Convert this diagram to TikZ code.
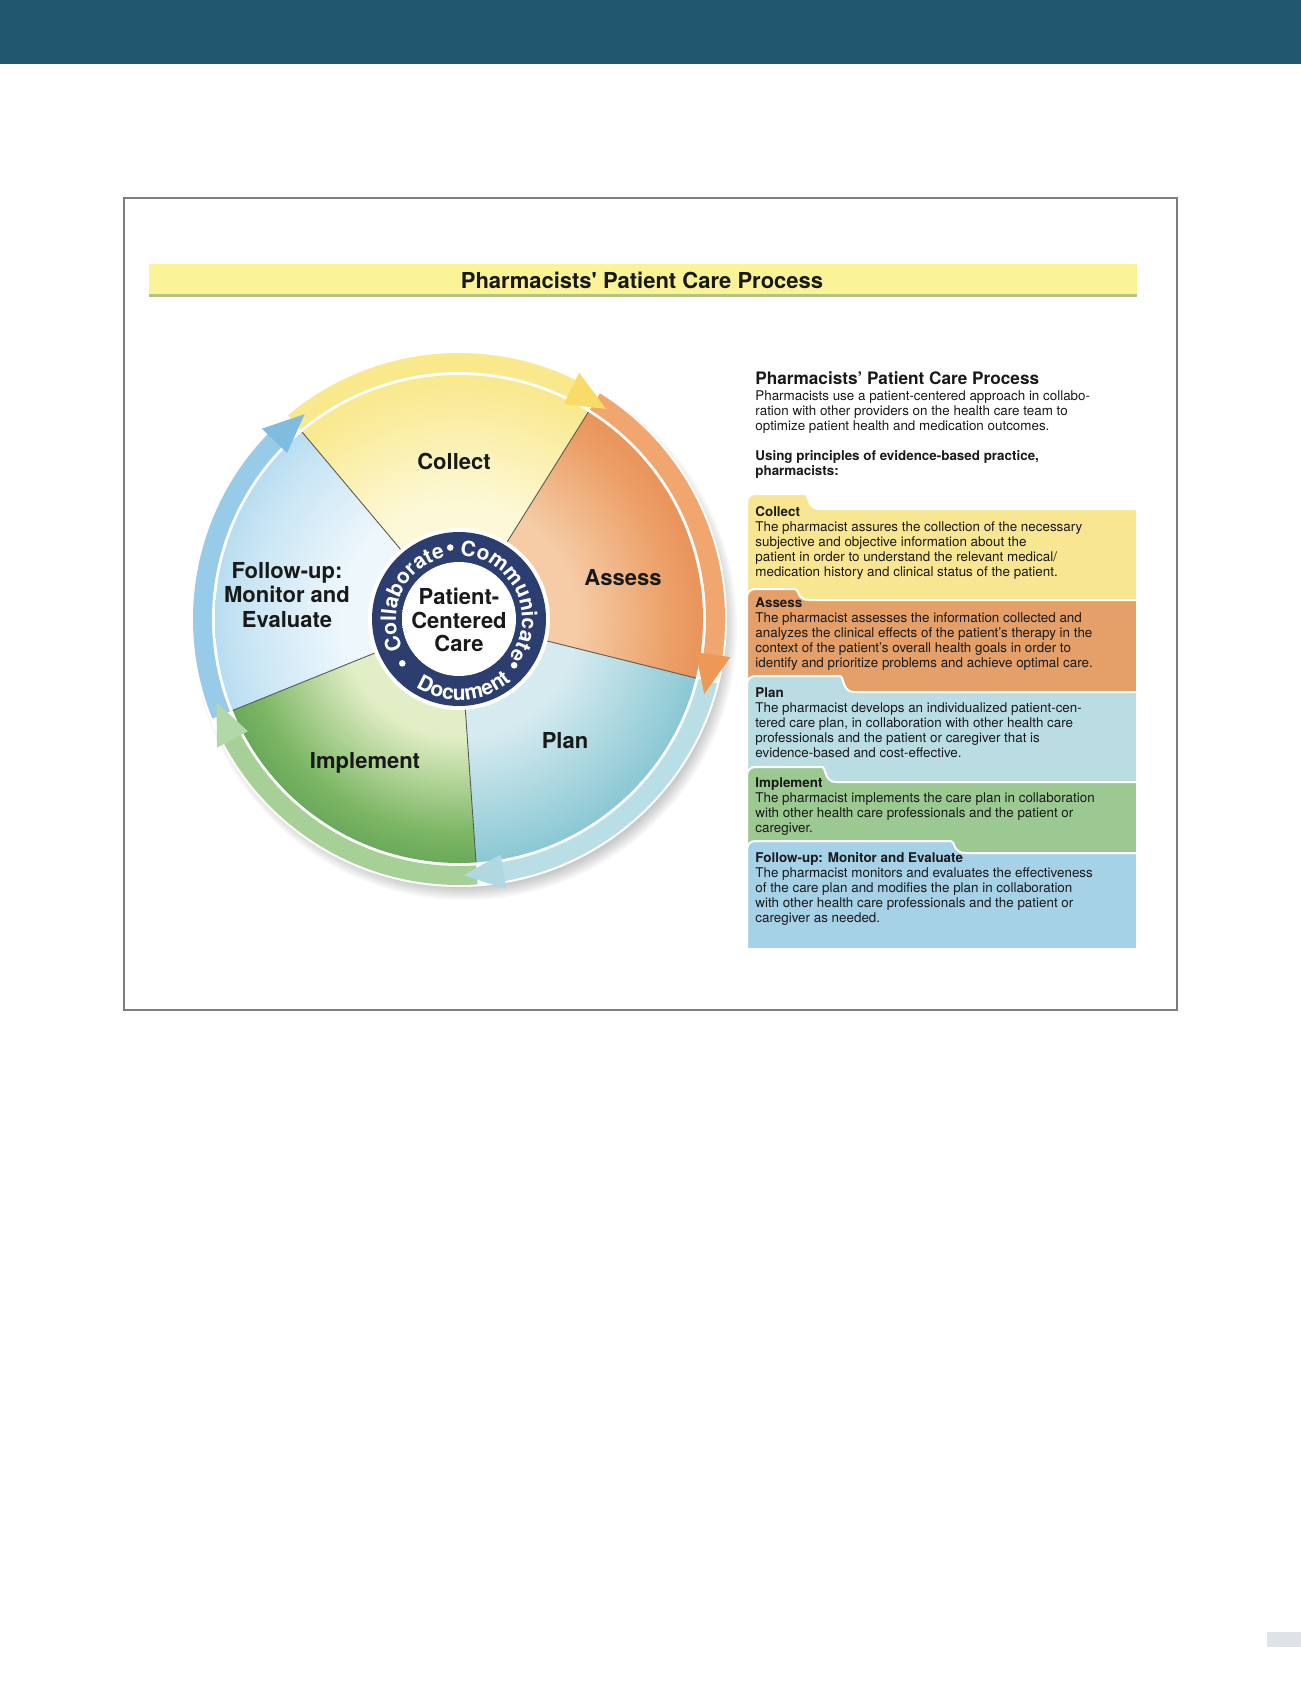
\documentclass[tikz,border=0pt]{standalone}
\usepackage{fontspec}
\setmainfont{TeX Gyre Heros}
\usetikzlibrary{decorations.text}
\definecolor{topbar}{RGB}{33,87,111}
\definecolor{frameg}{RGB}{125,125,125}
\definecolor{titleY}{RGB}{250,243,152}
\definecolor{titleG}{RGB}{178,196,132}
\definecolor{pagegray}{RGB}{222,227,231}
\definecolor{hubnavy}{RGB}{44,62,112}
\definecolor{boxY}{RGB}{249,230,146}
\definecolor{boxO}{RGB}{229,160,106}
\definecolor{boxP}{RGB}{186,221,228}
\definecolor{boxG}{RGB}{156,201,146}
\definecolor{boxB}{RGB}{166,210,232}
\definecolor{txt}{RGB}{25,25,25}
% wedge colours (inner, middle, outer)
\definecolor{cCin}{RGB}{253,248,214}\definecolor{cCmid}{RGB}{250,236,156}\definecolor{cCout}{RGB}{247,222,100}
\definecolor{cAin}{RGB}{245,204,166}\definecolor{cAmid}{RGB}{236,158,102}\definecolor{cAout}{RGB}{222,120,58}
\definecolor{cPin}{RGB}{214,235,240}\definecolor{cPmid}{RGB}{156,208,218}\definecolor{cPout}{RGB}{92,178,194}
\definecolor{cIin}{RGB}{226,238,198}\definecolor{cImid}{RGB}{124,182,100}\definecolor{cIout}{RGB}{56,138,64}
\definecolor{cFin}{RGB}{238,247,252}\definecolor{cFmid}{RGB}{200,229,244}\definecolor{cFout}{RGB}{140,200,231}
\definecolor{hubin}{RGB}{255,255,255}\definecolor{hubout}{RGB}{210,212,216}
% ring colours
\definecolor{rC}{RGB}{250,233,140}
\definecolor{rA}{RGB}{240,166,110}
\definecolor{rP}{RGB}{186,222,230}
\definecolor{rI}{RGB}{166,208,150}
\definecolor{rF}{RGB}{152,203,232}
\definecolor{hC}{RGB}{248,220,104}
\definecolor{hA}{RGB}{238,152,86}
\definecolor{hP}{RGB}{176,216,226}
\definecolor{hI}{RGB}{178,216,168}
\definecolor{hF}{RGB}{128,188,224}
% radial shading: rim of the shaded circle lies at about 35.4bp
\pgfdeclareradialshading{shC}{\pgfpoint{0bp}{0bp}}{color(0bp)=(cCin); color(12bp)=(cCin); color(22bp)=(cCmid); color(33bp)=(cCout); color(50bp)=(cCout)}
\pgfdeclareradialshading{shA}{\pgfpoint{0bp}{0bp}}{color(0bp)=(cAin); color(12bp)=(cAin); color(22bp)=(cAmid); color(33bp)=(cAout); color(50bp)=(cAout)}
\pgfdeclareradialshading{shP}{\pgfpoint{0bp}{0bp}}{color(0bp)=(cPin); color(12bp)=(cPin); color(22bp)=(cPmid); color(33bp)=(cPout); color(50bp)=(cPout)}
\pgfdeclareradialshading{shI}{\pgfpoint{0bp}{0bp}}{color(0bp)=(cIin); color(12bp)=(cIin); color(22bp)=(cImid); color(33bp)=(cIout); color(50bp)=(cIout)}
\pgfdeclareradialshading{shF}{\pgfpoint{0bp}{0bp}}{color(0bp)=(cFin); color(12bp)=(cFin); color(22bp)=(cFmid); color(33bp)=(cFout); color(50bp)=(cFout)}
\pgfdeclareradialshading{shHub}{\pgfpoint{0bp}{0bp}}{color(0bp)=(hubin); color(25bp)=(hubin); color(36bp)=(hubout); color(50bp)=(hubout)}
\newcommand\wlabfont{\bfseries\fontsize{11}{12.3}\selectfont}
\newcommand\ringfont{\bfseries\fontsize{10.5}{12}\selectfont}
\newcommand\bodyfont{\fontsize{6.7}{7.5}\selectfont}
\tikzset{
  wheellabel/.style={font=\wlabfont, align=center, text=txt, inner sep=0pt},
  bodytext/.style={font=\bodyfont, align=left, anchor=north west, inner sep=0pt, text=txt},
  tabbox/.style={draw=white, line width=1pt},
  wedgeline/.style={draw=black!65, line width=0.45pt},
  ringtext/.style={decorate, decoration={text along path, text align=center, text color=white}}
}
\begin{document}
\begin{tikzpicture}[x=0.5pt,y=-0.5pt]
\path[use as bounding box, fill=white] (0,0) rectangle (1301,1703);
% page decorations
\fill[topbar] (0,0) rectangle (1301,64);
\fill[pagegray] (1267,1632) rectangle (1301,1647);
\draw[frameg, line width=0.6pt] (124,198) rectangle (1177,1010);
% title bar
\fill[titleY] (149,264) rectangle (1137,294);
\fill[titleG] (149,294) rectangle (1137,297);
\node[font=\bfseries\fontsize{11}{13}\selectfont, text=txt, inner sep=0pt] (title) at (642,280) {Pharmacists\textquotesingle{} Patient Care Process};

% ---------------- wheel ----------------
\coordinate (wc) at (459,619);
\begin{scope}[shift={(459,619)}, y=0.5pt]
  % soft shadow
  \foreach \i in {0,...,6}{\fill[black, opacity=0.03] (6,-9) circle (260+2*\i);}
  \fill[white] (0,0) circle (268);
  % wedges
  \foreach \a/\b/\sh in {58/130/shC, 130/202/shF, 202/274/shI, 274/346/shP, -14/58/shA}{
    \begin{scope}
      \clip (0,0) -- (\a:244) arc[start angle=\a, end angle=\b, radius=244] -- cycle;
      \shade[shading=\sh] (0,0) circle (244);
    \end{scope}
  }
  \foreach \a in {58,130,202,274,346}{\draw[wedgeline] (0,0) -- (\a:244);}
  % ring bands
  \foreach \s/\e/\c in {130/58/rC, 58/-14/rA, -14/-86/rP, -86/-158/rI, -158/-230/rF}{
    \fill[\c] (\s:247) arc[start angle=\s, end angle=\e+5, radius=247] -- (\e+5:266)
      arc[start angle=\e+5, end angle=\s, radius=266] -- cycle;
  }
  % arrow heads
  \foreach \e/\c in {58/hC, -14/hA, -86/hP, -158/hI, -230/hF}{
    \fill[\c] (\e+6:239) -- (\e-3:256.5) -- (\e+6:274) -- cycle;
  }
  % hub
  \fill[white] (0,0) circle (91);
  \fill[hubnavy] (0,0) circle (87);
  \shade[shading=shHub] (0,0) circle (57);
  \path[ringtext, decoration={text={|\ringfont|Collaborate}}] (215:63) arc[start angle=215, end angle=95, radius=63];
  \path[ringtext, decoration={text={|\ringfont|Communicate}}] (93:63) arc[start angle=93, end angle=-41, radius=63];
  \path[ringtext, decoration={text={|\ringfont|Document}}] (226:81) arc[start angle=226, end angle=322, radius=81];
  \foreach \a in {97,-40,218}{\fill[white] (\a:72) circle (3.3);}
  \node[font=\bfseries\fontsize{11}{11.8}\selectfont, align=center, text=txt, inner sep=0pt] (hub) at (0,-1) {Patient-\\Centered\\Care};
\end{scope}

% wheel labels
\node[wheellabel] (lcollect) at (454,461) {Collect};
\node[wheellabel] (lassess) at (623,578) {Assess};
\node[wheellabel] (lplan) at (565,741) {Plan};
\node[wheellabel] (limpl) at (365,763) {Implement};
\node[wheellabel] (lfollow) at (287,595) {Follow-up:\\Monitor and\\Evaluate};

% ---------------- right panel ----------------
\node[font=\bfseries\fontsize{8.6}{10}\selectfont, anchor=base west, inner sep=0pt, text=txt] (rhead) at (755,384) {Pharmacists’ Patient Care Process};
\node[bodytext] (intro) at (755,390) {Pharmacists use a patient-centered approach in collabo-\\ration with other providers on the health care team to\\optimize patient health and medication outcomes.};
\node[bodytext, font=\bodyfont\bfseries] (using) at (755,450) {Using principles of evidence-based practice,\\pharmacists:};

\foreach \T/\M/\X/\B/\c in {494/509/817/600/boxY, 589/600/807/692/boxO, 676/692/852/782/boxP, 767/782/834/853/boxG, 841/853/963/949/boxB}{
  \path[tabbox, fill=\c] (747,\B) [rounded corners=4pt] -- (747,\T) -- (\X-20,\T) [sharp corners]
     .. controls (\X-8,\T) and (\X-10,\M) .. (\X+2,\M) -- (1137,\M) -- (1137,\B) -- cycle;
}

\node[bodytext] (tcollect) at (755,506) {{\bfseries Collect}\\The pharmacist assures the collection of the necessary\\subjective and objective information about the\\patient in order to understand the relevant medical/\\medication history and clinical status of the patient.};
\node[bodytext] (tassess) at (755,597) {{\bfseries Assess}\\The pharmacist assesses the information collected and\\analyzes the clinical effects of the patient’s therapy in the\\context of the patient’s overall health goals in order to\\identify and prioritize problems and achieve optimal care.};
\node[bodytext] (tplan) at (755,687) {{\bfseries Plan}\\The pharmacist develops an individualized patient-cen-\\tered care plan, in collaboration with other health care\\professionals and the patient or caregiver that is\\evidence-based and cost-effective.};
\node[bodytext] (timpl) at (755,777) {{\bfseries Implement}\\The pharmacist implements the care plan in collaboration\\with other health care professionals and the patient or\\caregiver.};
\node[bodytext] (tfollow) at (755,852) {{\bfseries Follow-up: Monitor and Evaluate}\\The pharmacist monitors and evaluates the effectiveness\\of the care plan and modifies the plan in collaboration\\with other health care professionals and the patient or\\caregiver as needed.};
\end{tikzpicture}
\end{document}
